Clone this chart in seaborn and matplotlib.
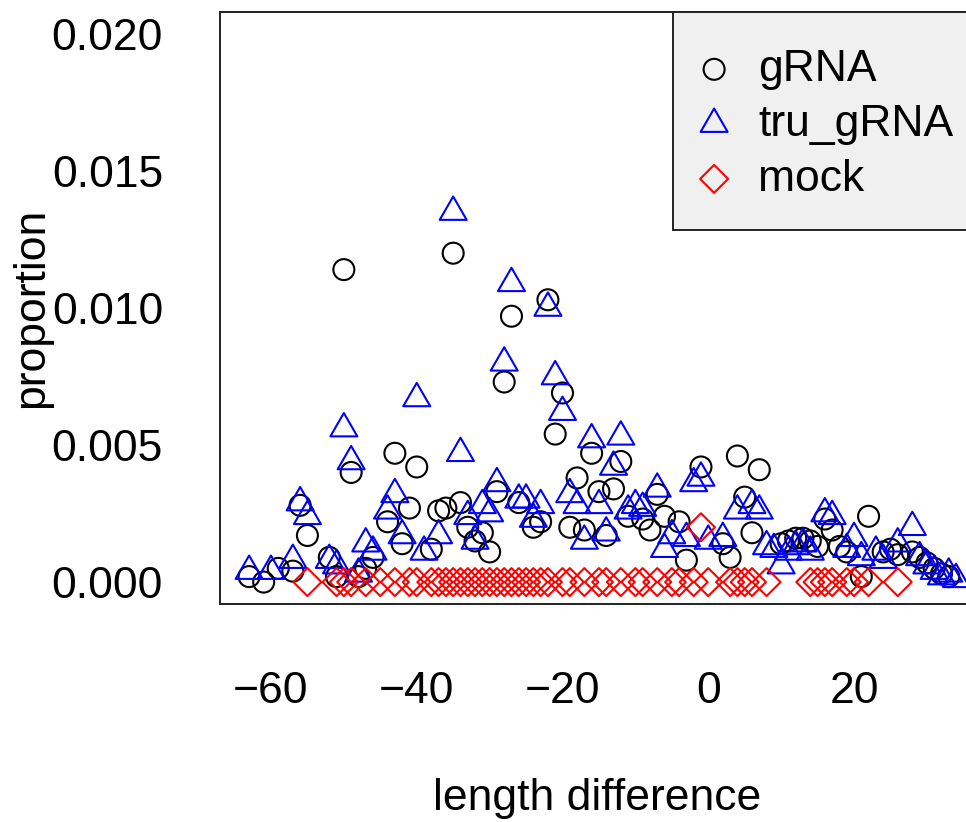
import numpy as np
import pandas as pd
import seaborn as sns
import matplotlib.pyplot as plt
from matplotlib.path import Path
from matplotlib.patches import Rectangle

# gRNA (black circles)
grna_x = [-63, -61, -59, -57, -56, -55, -52, -51, -50, -49,
          -48, -47, -46, -44, -43, -42, -41, -40, -38, -37,
          -36, -35, -34, -33, -32, -31, -30, -29, -28, -27,
          -26, -24, -23, -22, -21, -20, -19, -18, -17, -16,
          -15, -14, -13, -12, -11, -9, -8, -7, -6, -4,
          -3, -1, 2, 3, 4, 5, 6, 7, 10, 11,
          12, 13, 14, 15, 16, 17, 18, 19, 21, 22,
          24, 25, 26, 28, 29, 30, 31, 32, 33]
grna_y = [.0002, .0000, .0005, .0004, .0028, .0017, .0009, .0002, .0114, .0040,
          .0002, .0005, .0009, .0022, .0047, .0014, .0027, .0042, .0012, .0026,
          .0027, .0120, .0029, .0020, .0015, .0018, .0011, .0033, .0073, .0097,
          .0029, .0020, .0022, .0103, .0054, .0069, .0020, .0038, .0019, .0047,
          .0033, .0017, .0034, .0044, .0024, .0023, .0019, .0032, .0024, .0022,
          .0008, .0042, .0014, .0009, .0046, .0031, .0018, .0041, .0014, .0015,
          .0016, .0016, .0015, .0013, .0023, .0019, .0013, .0011, .0002, .0024,
          .0011, .0012, .0010, .0011, .0009, .0007, .0005, .0003, .0002]

# tru_gRNA (blue triangles)
tru_x = [-63, -60, -57, -56, -55, -52, -51, -50, -49, -48,
         -47, -46, -44, -43, -42, -40, -39, -37, -35, -34,
         -33, -32, -31, -30, -29, -28, -27, -26, -25, -24,
         -23, -22, -21, -20, -19, -18, -17, -16, -15, -14,
         -13, -12, -11, -10, -9, -7, -6, -5, -3, -2,
         -1, 0, 2, 4, 6, 7, 8, 9, 10, 11,
         12, 13, 14, 16, 17, 19, 20, 21, 23, 24,
         26, 28, 29, 30, 31, 32, 33, 34]
tru_y = [.0004, .0004, .0008, .0029, .0024, .0008, .0006, .0056, .0044, .0003,
         .0014, .0011, .0026, .0032, .0017, .0067, .0011, .0017, .0135, .0047,
         .0024, .0015, .0028, .0025, .0036, .0080, .0109, .0030, .0030, .0023,
         .0028, .0100, .0075, .0062, .0032, .0028, .0015, .0052, .0028, .0018,
         .0042, .0053, .0026, .0028, .0027, .0034, .0012, .0017, .0016, .0036,
         .0038, .0015, .0016, .0026, .0028, .0026, .0013, .0012, .0006, .0011,
         .0013, .0014, .0011, .0025, .0024, .0012, .0016, .0009, .0011, .0008,
         .0014, .0020, .0009, .0006, .0004, .0002, .0003, .0001]

# mock (red diamonds)
mock_x = [-55, -51, -50, -49, -47, -45, -43, -41, -40, -38,
          -37, -36, -35, -34, -33, -32, -31, -30, -29, -28,
          -27, -26, -25, -24, -23, -22, -20, -19, -17, -15,
          -14, -12, -10, -9, -7, -5, -4, -2, -1, 0,
          3, 4, 5, 6, 8, 14, 15, 16, 17, 19,
          20, 22, 26]
mock_y = [0, 0, 0, 0, 0, 0, 0, 0, 0, 0,
          0, 0, 0, 0, 0, 0, 0, 0, 0, 0,
          0, 0, 0, 0, 0, 0, 0, 0, 0, 0,
          0, 0, 0, 0, 0, 0, 0, 0, .0020, 0,
          0, 0, 0, 0, 0, 0, 0, 0, 0, 0,
          0, 0, 0]

x_ticks = [-60, -40, -20, 0, 20]
y_ticks = [0.000, 0.005, 0.010, 0.015, 0.020]

sns.set_theme(style="white")
plt.rcParams["font.family"] = ["Liberation Sans", "DejaVu Sans"]
plt.rcParams["text.color"] = "black"
plt.rcParams["axes.labelcolor"] = "black"
FS = 32

fig = plt.figure(figsize=(9.66, 8.22), dpi=100)
ax = fig.add_axes([0.2277, 0.2652, 0.7816, 0.7202])

# R style equilateral triangle (centroid at the data point)
tri = Path([(-1, -0.577), (1, -0.577), (0, 1.155), (-1, -0.577)],
           [Path.MOVETO, Path.LINETO, Path.LINETO, Path.CLOSEPOLY])

series = [
    ("gRNA", grna_x, grna_y, "black", "o", 228),
    ("tru_gRNA", tru_x, tru_y, "blue", tri, 503),
    ("mock", mock_x, mock_y, "red", "D", 203),
]
for name, xs, ys, col, mk, size in series:
    df = pd.DataFrame({"x": xs, "y": ys})
    sns.scatterplot(data=df, x="x", y="y", ax=ax, marker=mk, s=size,
                    color=col, facecolor="none", edgecolor=col,
                    linewidth=1.5, label=name)

ax.set_xlim(-67.0, 36.6)
ax.set_ylim(-0.0008, 0.0208)
ax.set_xticks(x_ticks)
ax.set_yticks(y_ticks)
ax.set_yticklabels([f"{v:.3f}" for v in y_ticks])
ax.tick_params(axis="both", direction="out", length=20, width=1.4,
               labelsize=FS, color="black", labelcolor="black")
ax.tick_params(axis="y", pad=21)
ax.tick_params(axis="x", pad=28)
for sp in ax.spines.values():
    sp.set_linewidth(1.4)
    sp.set_color("#222222")

ax.set_xlabel("length difference", fontsize=FS, labelpad=48)
ax.set_ylabel("proportion", fontsize=FS, labelpad=0)

# legend box drawn like R's: grey panel in the top right corner
box = Rectangle((0.600, 0.632), 0.45, 0.368, transform=ax.transAxes,
                facecolor="#f0f0f0", edgecolor="#222222", linewidth=1.4,
                zorder=4, clip_on=False)
ax.add_patch(box)
leg = ax.legend(loc="upper left", bbox_to_anchor=(693 / 966, 1 - 49 / 822),
                bbox_transform=fig.transFigure, borderaxespad=0, borderpad=0,
                fontsize=FS, frameon=False, handlelength=0.95,
                handletextpad=0.52, labelspacing=0.31, scatterpoints=1)
leg.set_zorder(5)

fig.savefig("out.png", dpi=100)
